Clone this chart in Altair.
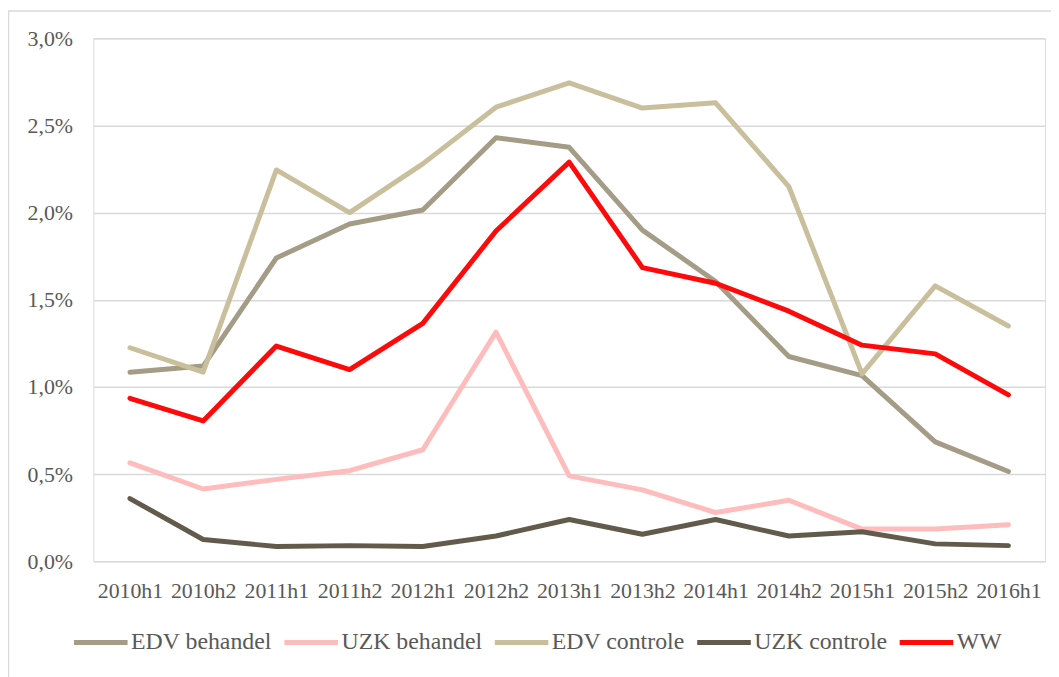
import altair as alt
import pandas as pd

periods = ["2010h1", "2010h2", "2011h1", "2011h2", "2012h1", "2012h2", "2013h1",
           "2013h2", "2014h1", "2014h2", "2015h1", "2015h2", "2016h1"]

series_names = ["EDV behandel", "UZK behandel", "EDV controle", "UZK controle", "WW"]
series_colors = ["#A59C88", "#FFBCBC", "#C9BF9C", "#625B4B", "#FF0A0A"]

edv_behandel = [1.085, 1.12, 1.74, 1.935, 2.015, 2.43, 2.375, 1.90, 1.605, 1.175, 1.065, 0.685, 0.515]
uzk_behandel = [0.565, 0.415, 0.47, 0.52, 0.64, 1.315, 0.49, 0.41, 0.28, 0.35, 0.185, 0.185, 0.21]
edv_controle = [1.225, 1.085, 2.245, 2.0, 2.28, 2.605, 2.745, 2.60, 2.63, 2.15, 1.075, 1.58, 1.35]
uzk_controle = [0.36, 0.125, 0.085, 0.09, 0.085, 0.145, 0.24, 0.155, 0.24, 0.145, 0.17, 0.10, 0.09]
ww = [0.935, 0.805, 1.235, 1.10, 1.365, 1.895, 2.29, 1.685, 1.595, 1.435, 1.24, 1.19, 0.955]

y_ticks = [0.0, 0.005, 0.01, 0.015, 0.02, 0.025, 0.03]

rows = []
for name, vals in zip(series_names, [edv_behandel, uzk_behandel, edv_controle, uzk_controle, ww]):
    for p, v in zip(periods, vals):
        rows.append({"periode": p, "reeks": name, "waarde": v / 100.0})
df = pd.DataFrame(rows)

W, H = 959, 527
FONT = "Liberation Serif, Times New Roman, DejaVu Serif, serif"
TXT = "#595959"

lines = alt.Chart(df).mark_line(strokeWidth=5, strokeCap="round", strokeJoin="round").encode(
    x=alt.X("periode:N", sort=periods, title=None,
            scale=alt.Scale(type="point", padding=0.5),
            axis=alt.Axis(labelAngle=0, ticks=False, domain=False, grid=False,
                          labelPadding=19, labelFont=FONT, labelFontSize=22,
                          labelColor=TXT)),
    y=alt.Y("waarde:Q", title=None,
            scale=alt.Scale(domain=[0, 0.03], nice=False),
            axis=alt.Axis(values=y_ticks, ticks=False, domain=False, grid=True,
                          gridColor="#D9D9D9", gridWidth=1.5,
                          labelExpr="replace(format(datum.value, '.1%'), '.', ',')",
                          labelPadding=21, labelFont=FONT, labelFontSize=22,
                          labelColor=TXT)),
    color=alt.Color("reeks:N", sort=series_names,
                    scale=alt.Scale(domain=series_names, range=series_colors),
                    legend=alt.Legend(title=None, orient="none", direction="horizontal",
                                      legendX=-22, legendY=579,
                                      symbolType="stroke", symbolSize=2916,
                                      symbolStrokeWidth=5, labelOffset=1,
                                      columnPadding=2, labelFont=FONT,
                                      labelFontSize=24, labelColor=TXT)),
    detail="reeks:N",
)

frame = alt.Chart(pd.DataFrame({"a": [0]})).mark_rect(
    fill=None, stroke="#D9D9D9", strokeWidth=1.5, clip=False
).encode(
    x=alt.value(-85.5), x2=alt.value(W + 60),
    y=alt.value(-27.5), y2=alt.value(H + 200),
)

chart = alt.layer(frame, lines).properties(
    width=W, height=H,
    autosize=alt.AutoSizeParams(type="none"),
    padding={"left": 86, "top": 28, "right": 6, "bottom": 114},
).configure_view(stroke=None).configure(background="white")

chart.save("out.html", embed_options={"renderer": "svg", "actions": False})
